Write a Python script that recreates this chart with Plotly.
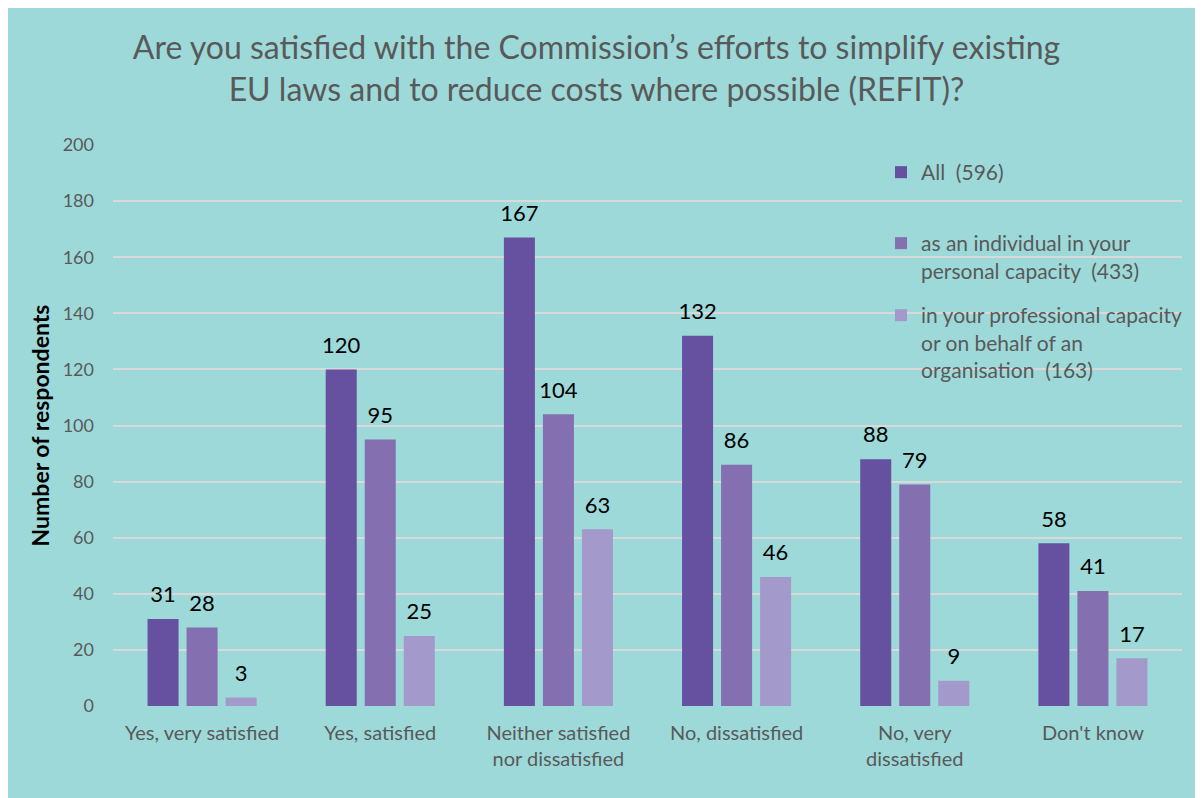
import plotly.graph_objects as go

categories = ["Yes, very satisfied", "Yes, satisfied", "Neither satisfied<br>nor dissatisfied",
              "No, dissatisfied", "No, very<br>dissatisfied", "Don't know"]
series_names = ["All  (596)",
                "as an individual in your<br>personal capacity  (433)",
                "in your professional capacity<br>or on behalf of an<br>organisation  (163)"]
all_vals = [31, 120, 167, 132, 88, 58]
individual_vals = [28, 95, 104, 86, 79, 41]
professional_vals = [3, 25, 63, 46, 9, 17]
y_ticks = [0, 20, 40, 60, 80, 100, 120, 140, 160, 180, 200]

title_text = ("Are you satisfied with the Commission\u2019s efforts to simplify existing<br>"
              "EU laws and to reduce costs where possible (REFIT)?")
y_title = "Number of respondents"

colors = ["#6651A0", "#846FB0", "#A399CA"]
BG = "#9DD9D9"
FONT = "Lato"

# the page adds an 8px body margin, so the figure is sized to end at the window edge
W, H = 1190, 790
ML, MR, MT, MB = 105, 16, 137, 92
PW, PH = W - ML - MR, H - MT - MB


def px_x(x):
    return (x - ML) / PW


def px_y(y):
    return (H - MB - y) / PH


legend_ids = ["legend", "legend2", "legend3"]
legend_tops = [144, 215, 287]

fig = go.Figure()
for name, vals, col, lid in zip(series_names, [all_vals, individual_vals, professional_vals],
                                colors, legend_ids):
    fig.add_trace(go.Bar(
        x=categories, y=vals, name=name, legend=lid,
        marker=dict(color=col, line=dict(width=0)),
        text=vals,
        texttemplate="<span style='font-size:22px'>%{text}</span><br>\u00a0",
        textposition="outside", constraintext="none", cliponaxis=False,
        textfont=dict(family=FONT, size=9, color="#000000"),
        hoverinfo="x+y+name",
    ))

# legend area hides the gridlines behind it
fig.add_shape(type="rect", xref="paper", yref="paper", layer="between",
              x0=px_x(887), x1=1.0, y0=px_y(382), y1=px_y(142),
              fillcolor=BG, line=dict(width=0))

legend_common = dict(xanchor="left", yanchor="top", bgcolor="rgba(0,0,0,0)",
                     font=dict(family=FONT, size=21, color="#595959"),
                     valign="top", itemclick=False)

fig.update_layout(
    width=W, height=H,
    margin=dict(l=ML, r=MR, t=MT, b=MB, autoexpand=False),
    paper_bgcolor=BG, plot_bgcolor=BG,
    barmode="group", bargap=0.343, bargroupgap=0.205,
    font=dict(family=FONT, color="#595959"),
    title=dict(text=title_text, x=588.5 / W, xref="container", xanchor="center",
               y=1 - 51 / H, yref="container", yanchor="middle",
               font=dict(family=FONT, size=32, color="#595959")),
    legend=dict(x=px_x(873), y=px_y(legend_tops[0]), **legend_common),
    legend2=dict(x=px_x(873), y=px_y(legend_tops[1]), **legend_common),
    legend3=dict(x=px_x(873), y=px_y(legend_tops[2]), **legend_common),
    showlegend=True,
)
fig.update_yaxes(range=[0, 200], tickvals=y_ticks, showgrid=True, gridcolor="#D9D9D9",
                 gridwidth=1.5, zeroline=False, showline=False, ticks="",
                 ticklabelstandoff=18,
                 tickfont=dict(family=FONT, size=18, color="#595959"),
                 title=dict(text="<b>" + y_title + "</b>", standoff=6,
                            font=dict(family=FONT, size=23, color="#000000")))
fig.update_xaxes(showgrid=False, showline=False, ticks="", ticklabelstandoff=13,
                 tickfont=dict(family=FONT, size=20, color="#595959"))

fig.write_html("out.html")
